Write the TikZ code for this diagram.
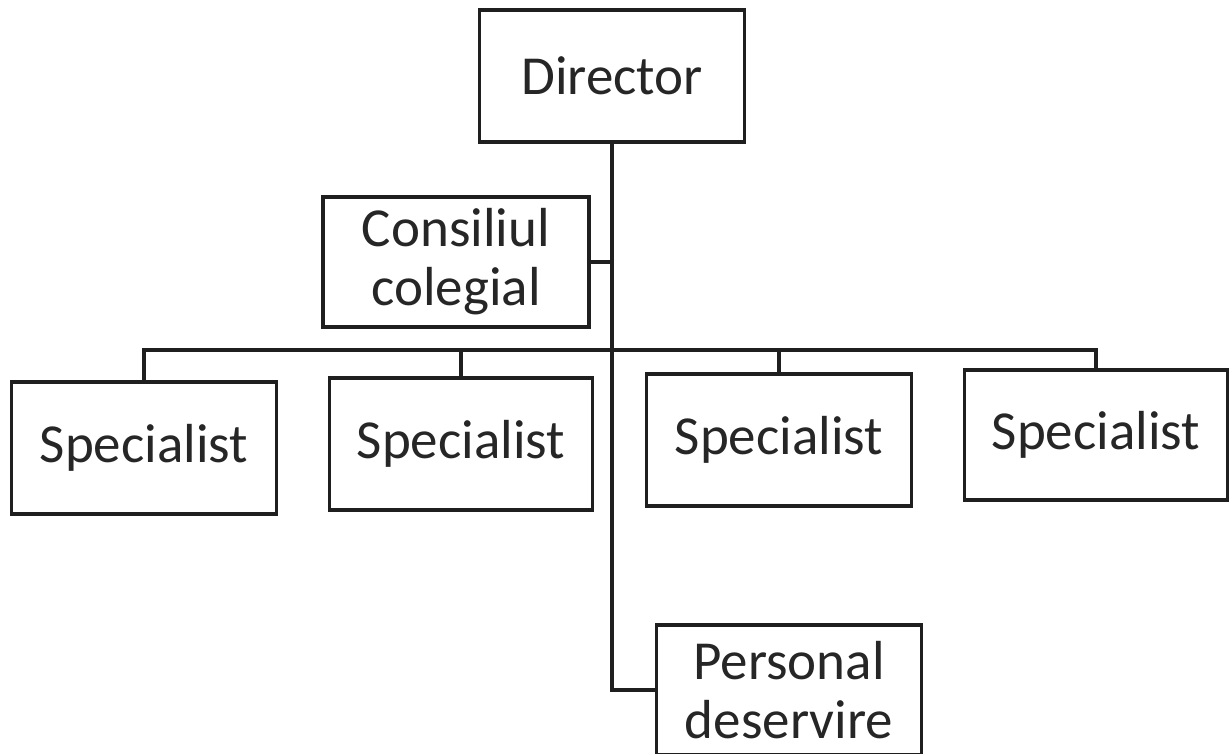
\documentclass[tikz,border=0pt]{standalone}
\usepackage{fontspec}
\setmainfont{Carlito}
\begin{document}
\begin{tikzpicture}[x=1pt,y=-1pt,
  box/.style={draw=black!88, line width=3.4pt, minimum width=265pt, minimum height=132pt,
    inner sep=0pt, align=center, font=\fontsize{55}{59}\selectfont, text=black!85},
  conn/.style={draw=black!88, line width=3.2pt}]
\useasboundingbox (0,0) rectangle (1230,753);
\fill[white] (0,0) rectangle (1230,753);
\node[box] (dir) at (612,76) {Director};
\node[box, minimum width=266pt, minimum height=130pt] (cons) at (456,262) {Consiliul\\colegial};
\node[box] (s1) at (144,448) {Specialist};
\node[box, minimum width=263pt] (s2) at (461,444) {Specialist};
\node[box] (s3) at (779,440) {Specialist};
\node[box, minimum width=263pt, minimum height=130pt] (s4) at (1096,435) {Specialist};
\node[box, minimum height=130pt] (pers) at (789,690) {Personal\\deservire};
\coordinate (bus) at (0,350);
\draw[conn] (dir.south) |- (pers.west);
\draw[conn] (cons.east) -- (cons.east -| dir.south);
\draw[conn] (s1.north) |- (s4.north |- bus) -- (s4.north);
\draw[conn] (s2.north) -- (s2.north |- bus);
\draw[conn] (s3.north) -- (s3.north |- bus);
\end{tikzpicture}
\end{document}
